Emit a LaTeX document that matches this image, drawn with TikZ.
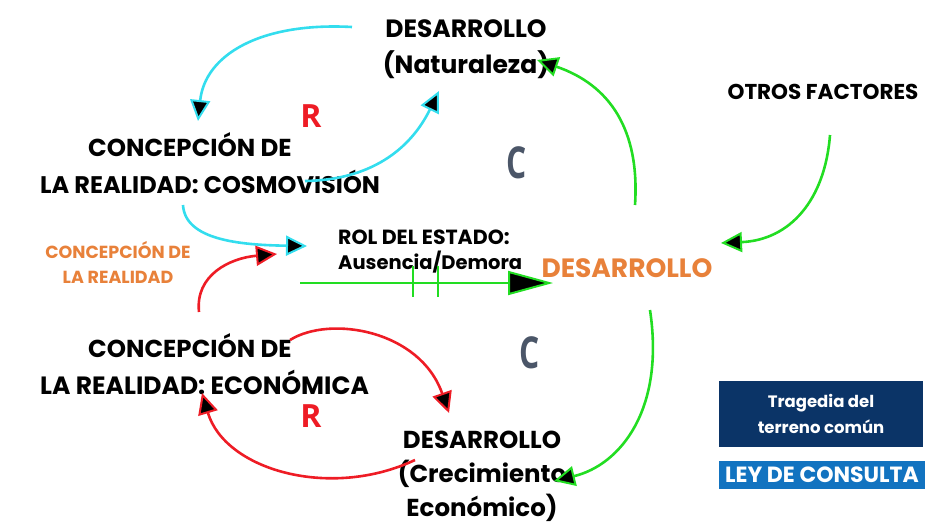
\documentclass[tikz,border=0pt]{standalone}
\usepackage{fontspec}
\setmainfont{Poppins}
\newfontfamily\cfont{Open Sans}
\usetikzlibrary{arrows.meta}
\definecolor{cyanL}{HTML}{33DDEE}
\definecolor{redL}{HTML}{EE1C25}
\definecolor{greenL}{HTML}{22DD22}
\definecolor{orangeT}{HTML}{E8813A}
\definecolor{slateC}{HTML}{4B5668}
\definecolor{navyB}{HTML}{0B3467}
\definecolor{blueB}{HTML}{1273C0}
\tikzset{
  lbl/.style={font=\bfseries\fontsize{25}{36}\selectfont, text=black, inner sep=0pt, align=center},
  olbl/.style={font=\bfseries\fontsize{17.5}{25}\selectfont, text=orangeT, inner sep=0pt, align=center},
  loopR/.style={font=\cfont\bfseries\fontsize{32}{32}\selectfont, text=redL, inner sep=0pt},
  loopC/.style={font=\cfont\bfseries\fontsize{44}{44}\selectfont, text=slateC, inner sep=0pt},
  link/.style={line width=2.6pt, -{Triangle[fill=black,length=21pt,width=20pt,line width=2pt]}},
}
\begin{document}
\begin{tikzpicture}[x=1pt,y=-1pt]
\useasboundingbox (0,0) rectangle (929,528);
% labels
\node[lbl] (dn) at (466,49) {DESARROLLO\\(Naturaleza)};
\node[loopR] (r1) at (311,116) {R};
\node[lbl,anchor=west,font=\bfseries\fontsize{24.5}{30}\selectfont] (cc1) at (88,145) {CONCEPCIÓN DE};
\node[lbl,anchor=west,font=\bfseries\fontsize{24}{30}\selectfont] (cc2) at (40,182) {LA REALIDAD: COSMOVISIÓN};
\node[loopC] (c1) at (517,163) {\scalebox{0.72}[1]{C}};
\node[lbl,font=\bfseries\fontsize{21.5}{30}\selectfont] (of) at (823,92) {OTROS FACTORES};
\node[olbl] (oc) at (118,262) {CONCEPCIÓN DE\\LA REALIDAD};
\node[lbl,anchor=west,font=\bfseries\fontsize{20.5}{25}\selectfont] (rol) at (338,237) {ROL DEL ESTADO:};
\node[lbl,anchor=west,font=\bfseries\fontsize{19.5}{25}\selectfont] (aus) at (338,262) {Ausencia/Demora};
\node[lbl,text=orangeT,font=\bfseries\fontsize{26.5}{30}\selectfont] (dc) at (627,268) {DESARROLLO};
\node[lbl,anchor=west,font=\bfseries\fontsize{24.5}{30}\selectfont] (ce1) at (88,346) {CONCEPCIÓN DE};
\node[lbl,anchor=west,font=\bfseries\fontsize{25}{30}\selectfont] (ce2) at (40,382) {LA REALIDAD: ECONÓMICA};
\node[loopC] (c2) at (530,353) {\scalebox{0.72}[1]{C}};
\node[loopR] (r2) at (311,416) {R};
\node[lbl,font=\bfseries\fontsize{24.5}{34}\selectfont] (de) at (482,476) {DESARROLLO\\(Crecimiento\\Económico)};
\node[fill=navyB, minimum width=204pt, minimum height=66pt, inner sep=0pt, text=white, align=center, font=\bfseries\fontsize{16.5}{26}\selectfont] (b1) at (821,413.5) {Tragedia del\\terreno común};
\node[fill=blueB, minimum width=206pt, minimum height=28pt, inner sep=0pt, text=white, font=\bfseries\fontsize{22}{22}\selectfont] (b2) at (822,475) {LEY DE CONSULTA};
% anchor coordinates
\coordinate (a1s) at (352,27);
\coordinate (a1e) at (198,121);
\coordinate (a2s) at (305,181);
\coordinate (a2e) at (439,91);
\coordinate (a3s) at (183,205);
\coordinate (a3e) at (307,246);
\coordinate (a4s) at (199,312);
\coordinate (a4e) at (277,254);
\coordinate (a5s) at (290,340);
\coordinate (a5e) at (449,413);
\coordinate (a6s) at (415,460);
\coordinate (a6e) at (202,393);
\coordinate (a7s) at (635,205);
\coordinate (a7e) at (537,60);
\coordinate (a8s) at (830,135);
\coordinate (a8e) at (721,243);
\coordinate (a9s) at (650,310);
\coordinate (a9e) at (554,481);
\coordinate (a10s) at (300,283);
\coordinate (a10e) at (553,283);
% cyan
\draw[link,cyanL] (a1s) .. controls (260,22) and (205,55) .. (a1e);
\draw[link,cyanL] (a2s) .. controls (370,180) and (410,150) .. (a2e);
\draw[link,cyanL] (a3s) .. controls (185,240) and (240,245) .. (a3e);
% red
\draw[link,redL] (a4s) .. controls (195,275) and (230,258) .. (a4e);
\draw[link,redL] (a5s) .. controls (330,315) and (420,330) .. (a5e);
\draw[link,redL] (a6s) .. controls (330,500) and (225,470) .. (a6e);
% green
\draw[link,greenL] (a7s) .. controls (640,130) and (610,85) .. (a7e);
\draw[link,greenL] (a8s) .. controls (825,200) and (790,240) .. (a8e);
\draw[link,greenL] (a9s) .. controls (665,410) and (620,465) .. (a9e);
\draw[line width=2.4pt,greenL,-{Triangle[fill=black,length=45pt,width=24pt,line width=2pt]}] (a10s) -- (a10e);
\coordinate (t1a) at (413,266); \coordinate (t1b) at (413,297);
\coordinate (t2a) at (438,266); \coordinate (t2b) at (438,297);
\draw[line width=2pt,greenL] (t1a) -- (t1b);
\draw[line width=2pt,greenL] (t2a) -- (t2b);
\end{tikzpicture}
\end{document}
